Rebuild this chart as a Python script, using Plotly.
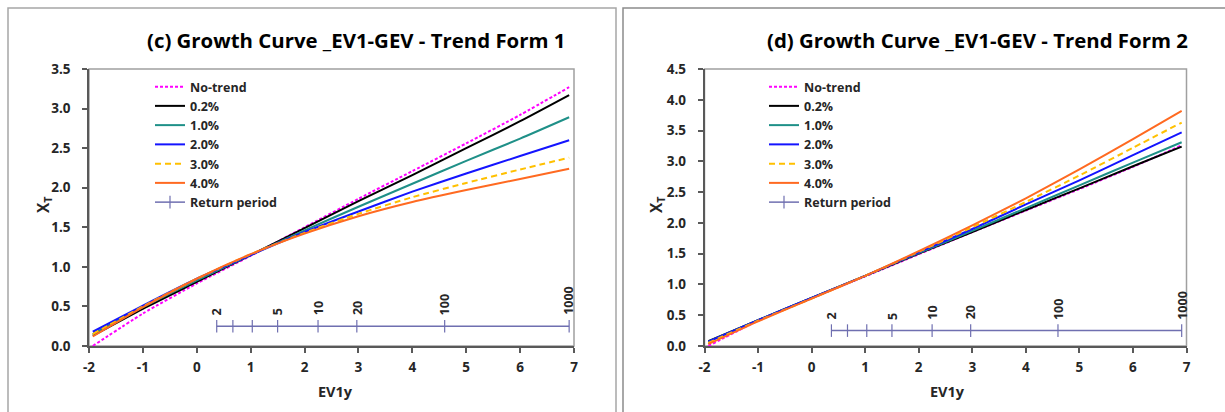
import plotly.graph_objects as go

W, H = 1225, 412

# ---------------- data ----------------
ev1y = [-1.93, -1, 0, 1, 2, 3, 4, 5, 6, 6.91]
series_names = ["No-trend", "0.2%", "1.0%", "2.0%", "3.0%", "4.0%"]

# (c) Trend Form 1
c_notrend = [0.00, 0.41, 0.79, 1.14, 1.50, 1.86, 2.21, 2.56, 2.92, 3.27]
c_p02 = [0.13, 0.47, 0.81, 1.15, 1.49, 1.83, 2.16, 2.50, 2.84, 3.17]
c_p10 = [0.15, 0.49, 0.83, 1.15, 1.46, 1.76, 2.05, 2.34, 2.62, 2.89]
c_p20 = [0.18, 0.51, 0.85, 1.15, 1.44, 1.70, 1.95, 2.18, 2.40, 2.60]
c_p30 = [0.15, 0.50, 0.85, 1.16, 1.43, 1.67, 1.88, 2.06, 2.23, 2.38]
c_p40 = [0.12, 0.49, 0.85, 1.16, 1.42, 1.64, 1.82, 1.97, 2.11, 2.24]

# (d) Trend Form 2
d_notrend = [0.00, 0.41, 0.78, 1.13, 1.49, 1.85, 2.20, 2.55, 2.91, 3.26]
d_p02 = [0.08, 0.42, 0.78, 1.14, 1.50, 1.85, 2.21, 2.56, 2.92, 3.24]
d_p10 = [0.07, 0.42, 0.78, 1.14, 1.51, 1.87, 2.24, 2.61, 2.98, 3.31]
d_p20 = [0.07, 0.42, 0.78, 1.14, 1.52, 1.90, 2.30, 2.69, 3.10, 3.47]
d_p30 = [0.05, 0.41, 0.77, 1.14, 1.53, 1.93, 2.34, 2.77, 3.22, 3.63]
d_p40 = [0.03, 0.40, 0.77, 1.14, 1.54, 1.96, 2.40, 2.87, 3.36, 3.82]

# return period axis
rp_x = [0.37, 0.67, 1.03, 1.50, 2.25, 2.97, 4.60, 6.91]
rp_y = [0.25, 0.25, 0.25, 0.25, 0.25, 0.25, 0.25, 0.25]
rp_labels = ["2", "", "", "5", "10", "20", "100", "1000"]

x_ticks = [-2, -1, 0, 1, 2, 3, 4, 5, 6, 7]
x_ticktext = ["-2", "-1", "0", "1", "2", "3", "4", "5", "6", "7"]

titles = ["(c) Growth Curve _EV1-GEV - Trend Form 1",
          "(d) Growth Curve _EV1-GEV - Trend Form 2"]

# ---------------- styles ----------------
styles = [
    dict(color="#ff00ff", dash="3px,2px"),
    dict(color="#000000", dash="solid"),
    dict(color="#1f9088", dash="solid"),
    dict(color="#1414ff", dash="solid"),
    dict(color="#ffc000", dash="6px,4px"),
    dict(color="#ff6a21", dash="solid"),
]
RP_COLOR = "#6f6fb0"
FONT = "Open Sans"
TXT = "#262626"

fig = go.Figure()

def px_x(p):
    return p / W

def px_y(p):
    return 1 - p / H

panels = [
    dict(xa="x", ya="y", legend="legend", data=[c_notrend, c_p02, c_p10, c_p20, c_p30, c_p40]),
    dict(xa="x2", ya="y2", legend="legend2", data=[d_notrend, d_p02, d_p10, d_p20, d_p30, d_p40]),
]

for p in panels:
    for name, ys, st in zip(series_names, p["data"], styles):
        fig.add_trace(go.Scatter(
            x=ev1y, y=ys, mode="lines", name=name,
            line=dict(color=st["color"], dash=st["dash"], width=2, shape="spline", smoothing=0.6),
            xaxis=p["xa"], yaxis=p["ya"], legend=p["legend"], hoverinfo="skip",
        ))
    fig.add_trace(go.Scatter(
        x=rp_x, y=rp_y, mode="lines+markers", name="Return period",
        line=dict(color=RP_COLOR, width=1.5),
        marker=dict(symbol="line-ns", size=9, line=dict(color=RP_COLOR, width=1.2)),
        xaxis=p["xa"], yaxis=p["ya"], legend=p["legend"], hoverinfo="skip",
    ))

# geometry (window pixels)
L_x0, L_x1 = 89, 574
R_x0, R_x1 = 704.5, 1186.5
Y_top, Y_bot = 69, 346

axis_common = dict(
    showgrid=False, zeroline=False, showline=True, linecolor="#595959", linewidth=1.5,
    ticks="outside", ticklen=5, tickcolor="#595959", tickwidth=1.5,
    tickfont=dict(family=FONT, size=13.5, color=TXT, weight="bold"), automargin=False,
)

fig.update_layout(
    width=W, height=H, margin=dict(l=0, r=0, t=0, b=0),
    paper_bgcolor="white", plot_bgcolor="white", showlegend=True,
    xaxis=dict(domain=[px_x(L_x0), px_x(L_x1)], range=[-2, 7], tickvals=x_ticks, ticktext=x_ticktext,
               anchor="y", ticklabelstandoff=3, **axis_common),
    yaxis=dict(domain=[px_y(Y_bot), px_y(Y_top)], range=[0, 3.5], dtick=0.5, tickformat=".1f",
               anchor="x", ticklabelstandoff=9, **axis_common),
    xaxis2=dict(domain=[px_x(R_x0), px_x(R_x1)], range=[-2, 7], tickvals=x_ticks, ticktext=x_ticktext,
                anchor="y2", ticklabelstandoff=3, **axis_common),
    yaxis2=dict(domain=[px_y(Y_bot), px_y(Y_top)], range=[0, 4.5], dtick=0.5, tickformat=".1f",
                anchor="x2", ticklabelstandoff=9, **axis_common),
)

legend_common = dict(
    xanchor="left", yanchor="top", bgcolor="rgba(0,0,0,0)", borderwidth=0,
    font=dict(family=FONT, size=12.5, color=TXT, weight="bold"),
    tracegroupgap=0, itemwidth=30,
)
fig.update_layout(
    legend=dict(x=px_x(150), y=px_y(72), **legend_common),
    legend2=dict(x=px_x(764), y=px_y(72), **legend_common),
)

shapes = []
# panel frames
shapes.append(dict(type="rect", xref="paper", yref="paper", x0=px_x(8), x1=px_x(616), y0=-0.05, y1=px_y(8),
                   line=dict(color="#a6a6a6", width=1.5), layer="below"))
shapes.append(dict(type="rect", xref="paper", yref="paper", x0=px_x(623), x1=1.05, y0=-0.05, y1=px_y(8),
                   line=dict(color="#8c8c8c", width=1.5), layer="below"))
# plot area frames (top/right)
for xd, yd in [("x domain", "y domain"), ("x2 domain", "y2 domain")]:
    shapes.append(dict(type="rect", xref=xd, yref=yd, x0=0, x1=1, y0=0, y1=1,
                       line=dict(color="#a0a0a0", width=1.5), layer="below"))
fig.update_layout(shapes=shapes)

ann = []
for t, cx in zip(titles, [356, 977]):
    ann.append(dict(text=t, x=px_x(cx), y=px_y(40), xref="paper", yref="paper", showarrow=False,
                    xanchor="center", yanchor="middle",
                    font=dict(family=FONT, size=20.4, color="#000000", weight="bold")))
for xc in [335, 948]:
    ann.append(dict(text="EV1y", x=px_x(xc), y=px_y(391), xref="paper", yref="paper", showarrow=False,
                    xanchor="center", yanchor="middle",
                    font=dict(family=FONT, size=14.5, color=TXT, weight="bold")))
for xc in [43, 656]:
    ann.append(dict(text="X<sub>T</sub>", x=px_x(xc), y=px_y(205), xref="paper", yref="paper", showarrow=False,
                    xanchor="center", yanchor="middle",
                    textangle=-90, font=dict(family=FONT, size=15.5, color=TXT, weight="bold")))
for xa, ya in [("x", "y"), ("x2", "y2")]:
    for xv, yv, lab in zip(rp_x, rp_y, rp_labels):
        if lab:
            ann.append(dict(text=lab, x=xv, y=yv, xref=xa, yref=ya, showarrow=False, textangle=-90,
                            xanchor="center", yanchor="bottom", yshift=9,
                            font=dict(family=FONT, size=12.5, color=TXT, weight="bold")))
fig.update_layout(annotations=ann)

fig.write_html("out.html")
